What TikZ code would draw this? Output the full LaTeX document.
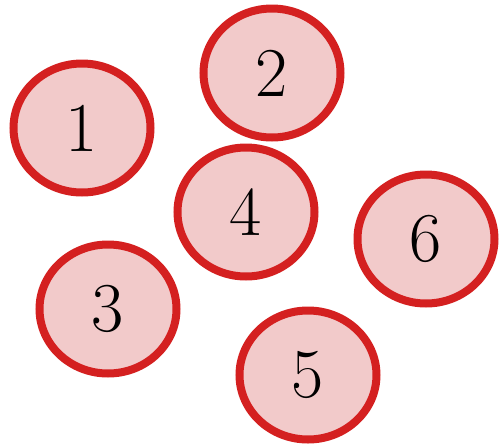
\documentclass[tikz,border=0pt]{standalone}
\usetikzlibrary{shapes.geometric}
\definecolor{ringred}{HTML}{D42020}
\definecolor{ringfill}{HTML}{F2CACA}
\tikzset{
  ring/.style={ellipse, draw=ringred, fill=ringfill, line width=8pt,
    minimum width=137pt, minimum height=129pt, inner sep=0pt,
    font=\fontsize{70}{70}\selectfont}
}
\begin{document}
\begin{tikzpicture}[x=1pt,y=-1pt]
\useasboundingbox (0,0) rectangle (499,445);
\node[ring] (n1) at (82,128) {1};
\node[ring] (n2) at (272,73) {2};
\node[ring] (n4) at (246,212) {4};
\node[ring] (n6) at (426,239) {6};
\node[ring] (n3) at (108,309) {3};
\node[ring] (n5) at (308,375) {5};
\end{tikzpicture}
\end{document}
